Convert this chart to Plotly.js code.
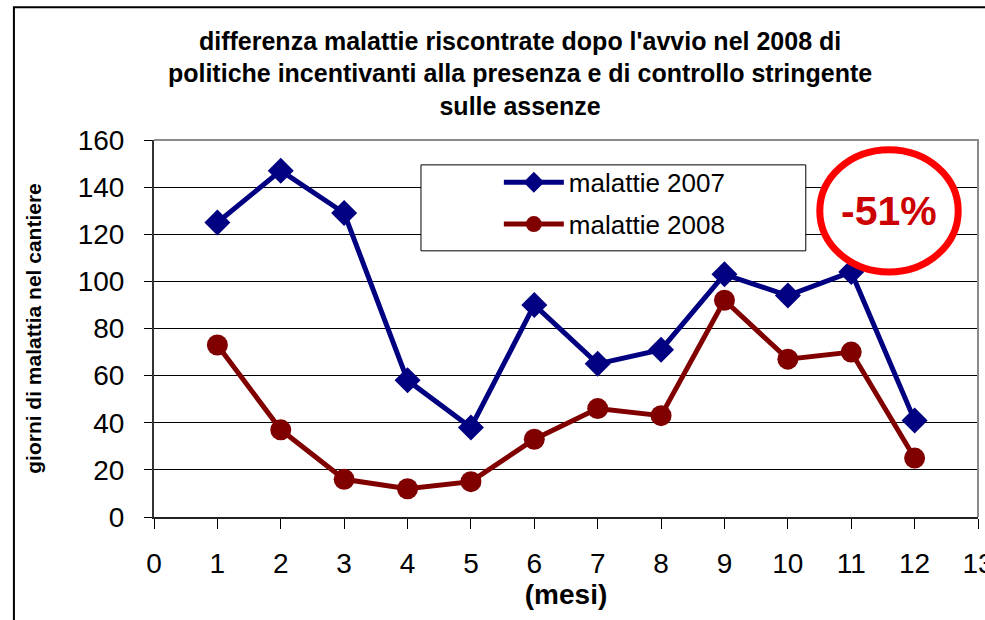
<!DOCTYPE html>
<html>
<head>
<meta charset="utf-8">
<script src="https://cdn.plot.ly/plotly-3.0.1.min.js"></script>
<style>
html, body { margin: 0; padding: 0; background: #fff; }
#chart { width: 985px; height: 620px; }
</style>
</head>
<body>
<div id="chart"></div>
<script>
// ---- data ----
const months = [1, 2, 3, 4, 5, 6, 7, 8, 9, 10, 11, 12];
const malattie2007 = [125, 147, 129, 58, 38, 90, 65, 71, 103, 94, 104, 41];
const malattie2008 = [73, 37, 16, 12, 15, 33, 46, 43, 92, 67, 70, 25];
const seriesNames = ['malattie 2007', 'malattie 2008'];
const xTicks = [0, 1, 2, 3, 4, 5, 6, 7, 8, 9, 10, 11, 12, 13];
const yTicks = [0, 20, 40, 60, 80, 100, 120, 140, 160];
const titleLines = [
  "differenza malattie riscontrate dopo l'avvio nel 2008 di",
  "politiche incentivanti alla presenza e di controllo stringente",
  "sulle assenze"
];
const xTitle = '(mesi)';
const yTitle = 'giorni di malattia nel cantiere';
const badgeText = '-51%';

const FONT = 'Arial, "Liberation Sans", sans-serif';

const traces = [
  {
    x: months, y: malattie2007, name: seriesNames[0],
    type: 'scatter', mode: 'lines+markers',
    line: { color: '#000080', width: 5 },
    marker: { symbol: 'diamond', size: 20, color: '#000080' },
    legendgroup: 'a'
  },
  {
    x: months, y: malattie2008, name: seriesNames[1],
    type: 'scatter', mode: 'lines+markers',
    line: { color: '#800000', width: 5 },
    marker: { symbol: 'circle', size: 21, color: '#800000' },
    legendgroup: 'b'
  }
];

const layout = {
  width: 985, height: 620,
  paper_bgcolor: '#ffffff', plot_bgcolor: '#ffffff',
  margin: { l: 154, r: 7, t: 140, b: 103 },
  font: { family: FONT, color: '#000' },
  title: {
    text: titleLines.join('<br>'),
    font: { family: FONT, size: 25, weight: 700, color: '#000' },
    x: 0.528, xref: 'container', xanchor: 'center',
    y: 0.92, yref: 'container', yanchor: 'top'
  },
  xaxis: {
    range: [0, 13], tickvals: xTicks, ticktext: xTicks.map(String),
    ticks: 'outside', ticklen: 10, tickwidth: 1, tickcolor: '#000',
    showline: true, linecolor: '#222', linewidth: 2,
    showgrid: false, zeroline: false,
    tickfont: { family: FONT, size: 28, color: '#000' },
    ticklabelstandoff: 10, ticklabeloverflow: 'allow',
    title: { text: xTitle, font: { family: FONT, size: 28, weight: 700, color: '#000' }, standoff: 0 }
  },
  yaxis: {
    range: [0, 160], tickvals: yTicks, ticktext: yTicks.map(String),
    ticks: 'outside', ticklen: 8, tickwidth: 1, tickcolor: '#000',
    showline: true, linecolor: '#333', linewidth: 2,
    showgrid: true, gridcolor: '#000', gridwidth: 1, zeroline: false,
    tickfont: { family: FONT, size: 28, color: '#000' },
    ticklabelstandoff: 14,
    title: { text: yTitle, font: { family: FONT, size: 21, weight: 700, color: '#000' }, standoff: 30 }
  },
  showlegend: true,
  legend: {
    x: 0.4185, xanchor: 'left', y: 0.95, yanchor: 'top',
    bgcolor: 'rgba(0,0,0,0)', borderwidth: 0,
    font: { family: FONT, size: 26, color: '#000' },
    traceorder: 'grouped', tracegroupgap: 5, itemwidth: 60
  },
  shapes: [
    // outer frame
    { type: 'rect', xref: 'paper', yref: 'paper', x0: -0.17, x1: 1.2, y0: -0.5, y1: 1.352,
      line: { color: '#000', width: 2 }, fillcolor: 'rgba(0,0,0,0)', layer: 'below' },
    // plot area top/right border
    { type: 'path', xref: 'paper', yref: 'paper', path: 'M 0 1 L 1 1 L 1 0',
      line: { color: '#8a8a8a', width: 2 }, layer: 'above' },
    // legend box
    { type: 'rect', xref: 'paper', yref: 'paper', x0: 0.324, x1: 0.791, y0: 0.706, y1: 0.934,
      line: { color: '#000', width: 1 }, fillcolor: '#ffffff', layer: 'above' },
    // red ellipse
    { type: 'circle', xref: 'paper', yref: 'paper', x0: 0.808, x1: 0.976, y0: 0.650, y1: 0.974,
      line: { color: '#ff0000', width: 7 }, fillcolor: '#ffffff', layer: 'above' }
  ],
  annotations: [
    { xref: 'paper', yref: 'paper', x: 0.892, y: 0.812, text: badgeText, showarrow: false,
      xanchor: 'center', yanchor: 'middle',
      font: { family: FONT, size: 41, weight: 700, color: '#cc0000' } }
  ]
};

Plotly.newPlot('chart', traces, layout, { displayModeBar: false, staticPlot: true });
</script>
</body>
</html>
